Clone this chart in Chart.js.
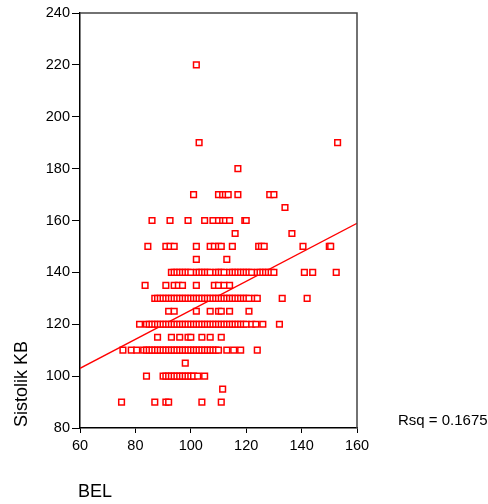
<!DOCTYPE html>
<html>
<head>
<meta charset="utf-8">
<script src="https://cdn.jsdelivr.net/npm/chart.js@4.4.1/dist/chart.umd.min.js"></script>
<style>
  html, body { margin: 0; padding: 0; background: #fff; }
  #wrap { width: 488px; height: 504px; position: relative; }
</style>
</head>
<body>
<div id="wrap"><canvas id="c"></canvas></div>
<script>
// Systolic blood pressure levels (mmHg) and the BEL values observed at each level
const sbpLevels = [220, 190, 180, 170, 165, 160, 155, 150, 145, 140, 135, 130, 125, 120, 115, 110, 105, 100, 95, 90];
const belAt220 = [102];
const belAt190 = [103, 153];
const belAt180 = [117];
const belAt170 = [101, 110, 111.5, 112.5, 113.5, 117, 128.5, 130];
const belAt165 = [134];
const belAt160 = [86, 92.5, 99, 105, 108, 110, 111.5, 112.5, 114, 119.5, 120];
const belAt155 = [116, 136.5];
const belAt150 = [84.5, 91, 92.5, 94, 102, 107, 108.5, 110, 111, 115, 124.5, 125.5, 126.5, 140.5, 150, 150.5];
const belAt145 = [102, 113];
const belAt140 = [93, 94, 95, 96, 97, 98, 99, 100, 102, 103, 104, 105, 106, 107, 109, 110, 111, 112,
                  114, 115, 116, 117, 118, 119, 120, 121, 122, 124, 125, 126, 127, 128, 129, 130,
                  141, 144, 152.5];
const belAt135 = [83.5, 91, 94, 95.5, 97, 102, 108.5, 110, 112, 114];
const belAt130 = [87, 88, 89, 90, 91, 92, 93, 94, 95, 96, 97, 98, 99, 100, 101, 102, 103, 104, 105,
                  106, 107, 108, 109, 110, 111, 112, 113, 114, 115, 116, 117, 118, 119, 120, 121,
                  123, 124, 133, 142];
const belAt125 = [92, 94, 102, 107, 110, 111, 114, 121];
const belAt120 = [81.5, 84, 85, 86, 87, 88, 89, 90, 91, 92, 93, 94, 95, 96, 97, 98, 99, 100, 101, 102,
                  103, 104, 105, 106, 107, 108, 109, 110, 111, 112, 113, 114, 115, 116, 117, 118,
                  119, 120, 122, 123.5, 126, 132];
const belAt115 = [88, 93, 96, 99, 100, 104, 107, 111];
const belAt110 = [75.5, 78.5, 80.5, 83, 84, 85, 86, 87, 88, 89, 90, 91, 92, 93, 94, 95, 96, 97, 98,
                  99, 100, 101, 102, 103, 104, 105, 106, 107, 108, 109, 110, 113, 115.5, 118, 124];
const belAt105 = [98];
const belAt100 = [84, 90, 91, 92, 93, 94, 95, 96, 97, 98, 99, 100, 101, 102.5, 105];
const belAt95 = [111.5];
const belAt90 = [75, 87, 91, 92, 104, 111];
const belByLevel = [belAt220, belAt190, belAt180, belAt170, belAt165, belAt160, belAt155, belAt150,
                    belAt145, belAt140, belAt135, belAt130, belAt125, belAt120, belAt115, belAt110,
                    belAt105, belAt100, belAt95, belAt90];

// Linear fit (ends of the line at the x-axis limits) and its R squared
const fitX = [60, 160];
const fitY = [103.0, 158.9];
const rSquared = '0.1675';

// Axis ticks
const xTicks = [60, 80, 100, 120, 140, 160];
const yTicks = [80, 100, 120, 140, 160, 180, 200, 220, 240];

const points = [];
sbpLevels.forEach((sbp, i) => belByLevel[i].forEach(bel => points.push({ x: bel, y: sbp })));
const fitLine = fitX.map((x, i) => ({ x: x, y: fitY[i] }));

const FONT = '"Liberation Sans", Arial, sans-serif';

const decorations = {
  id: 'decorations',
  afterDraw(chart) {
    const ctx = chart.ctx;
    const a = chart.chartArea;
    ctx.save();
    // top and right frame
    ctx.strokeStyle = '#444';
    ctx.lineWidth = 1.5;
    ctx.beginPath();
    ctx.moveTo(a.left, a.top);
    ctx.lineTo(a.right, a.top);
    ctx.lineTo(a.right, a.bottom);
    ctx.stroke();
    ctx.fillStyle = '#000';
    // axis titles
    ctx.font = '18px ' + FONT;
    ctx.textBaseline = 'alphabetic';
    ctx.textAlign = 'left';
    ctx.fillText('BEL', 78, 497);
    ctx.save();
    ctx.translate(27, 384);
    ctx.rotate(-Math.PI / 2);
    ctx.textAlign = 'center';
    ctx.fillText('Sistolik KB', 0, 0);
    ctx.restore();
    // fit statistic
    ctx.font = '15px ' + FONT;
    ctx.textAlign = 'left';
    ctx.fillText('Rsq = ' + rSquared, 398, 425);
    ctx.restore();
  }
};

new Chart(document.getElementById('c'), {
  type: 'scatter',
  data: {
    datasets: [
      {
        data: points,
        pointStyle: 'rect',
        pointRadius: 4,
        pointBorderWidth: 1.5,
        pointBorderColor: '#ff0000',
        pointBackgroundColor: '#ffffff',
        showLine: false
      },
      {
        type: 'line',
        data: fitLine,
        borderColor: '#ff0000',
        borderWidth: 1.3,
        pointRadius: 0,
        fill: false
      }
    ]
  },
  options: {
    responsive: true,
    maintainAspectRatio: false,
    animation: false,
    events: [],
    layout: { padding: { left: 0, right: 131, top: 13, bottom: 0 } },
    plugins: { legend: { display: false }, tooltip: { enabled: false } },
    scales: {
      x: {
        type: 'linear',
        min: xTicks[0],
        max: xTicks[xTicks.length - 1],
        afterBuildTicks: s => { s.ticks = xTicks.map(v => ({ value: v })); },
        afterFit: s => { s.height = 76; },
        border: { display: true, color: '#000', width: 1.5 },
        grid: { display: true, drawOnChartArea: false, drawTicks: true, tickLength: 5, color: '#000', tickWidth: 1 },
        ticks: { color: '#000', font: { family: FONT, size: 14.5 }, padding: 4, maxRotation: 0, autoSkip: false }
      },
      y: {
        type: 'linear',
        min: yTicks[0],
        max: yTicks[yTicks.length - 1],
        afterBuildTicks: s => { s.ticks = yTicks.map(v => ({ value: v })); },
        afterFit: s => { s.width = 80; },
        border: { display: true, color: '#000', width: 1.5 },
        grid: { display: true, drawOnChartArea: false, drawTicks: true, tickLength: 8, color: '#000', tickWidth: 1 },
        ticks: { color: '#000', font: { family: FONT, size: 14.5 }, padding: 2, autoSkip: false }
      }
    }
  },
  plugins: [decorations]
});
</script>
</body>
</html>
